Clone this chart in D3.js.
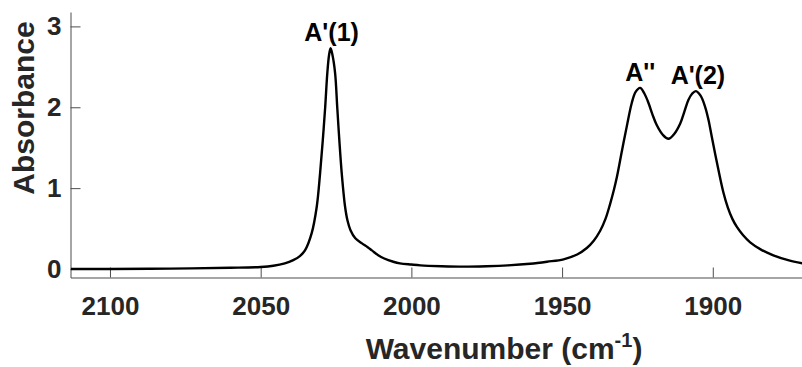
<!DOCTYPE html>
<html>
<head>
<meta charset="utf-8">
<script src="https://cdn.jsdelivr.net/npm/d3@7"></script>
<style>
  html, body { margin: 0; padding: 0; background: #fff; }
  svg { display: block; }
  text { font-family: "Liberation Sans", Arial, Helvetica, sans-serif; font-weight: bold; }
</style>
</head>
<body>
<svg id="chart" width="802" height="367"></svg>
<script>
// IR spectrum: wavenumber (cm^-1) and absorbance
const wavenumber = [
  2113, 2100, 2080, 2060, 2050, 2045.8, 2042, 2039.2, 2037, 2035.3,
  2033.1, 2031.4, 2030.3, 2029.4, 2028.6, 2027.9, 2027.3, 2026.8, 2026.2, 2025.3,
  2024.6, 2023.9, 2023.1, 2022.0, 2021.2, 2020.2, 2018.6, 2016.5, 2014.5, 2013.1,
  2011, 2009, 2006, 2003.8, 2000, 1997, 1990, 1982.7, 1975, 1968,
  1960.6, 1955, 1949.5, 1945, 1941.8, 1939.5, 1937.4, 1935.6, 1934.1, 1932.8,
  1931.8, 1930.2, 1928.5, 1926.9, 1925.6, 1924.1, 1922.7, 1921.3, 1920, 1918.6,
  1916.6, 1914.7, 1912.8, 1910.8, 1909.4, 1908.1, 1906.8, 1905.6, 1904, 1902.5,
  1901.4, 1900.3, 1898.1, 1896.5, 1895, 1893.5, 1892, 1890, 1887.6, 1884,
  1879.9, 1875, 1870.3
];
const absorbance = [
  0.00, 0.00, 0.005, 0.015, 0.025, 0.04, 0.07, 0.11, 0.16, 0.23,
  0.44, 0.77, 1.18, 1.59, 2.00, 2.42, 2.65, 2.73, 2.65, 2.42,
  2.00, 1.59, 1.18, 0.77, 0.60, 0.48, 0.38, 0.32, 0.27, 0.23,
  0.17, 0.13, 0.09, 0.07, 0.055, 0.045, 0.035, 0.03, 0.035, 0.045,
  0.065, 0.09, 0.12, 0.18, 0.26, 0.35, 0.47, 0.62, 0.80, 0.98,
  1.14, 1.45, 1.77, 2.05, 2.19, 2.24, 2.17, 2.05, 1.91, 1.78,
  1.66, 1.61, 1.67, 1.80, 1.95, 2.09, 2.17, 2.20, 2.14, 2.00,
  1.84, 1.63, 1.22, 0.95, 0.76, 0.62, 0.52, 0.42, 0.33, 0.24,
  0.17, 0.11, 0.07
];

const xTicks = [2100, 2050, 2000, 1950, 1900];
const yTicks = [0, 1, 2, 3];

// Band assignments placed above their peaks
const bandLabels = ["A'(1)", "A''", "A'(2)"];
const bandPositions = [2026.8, 1924.1, 1905.6];
const bandHeights = [2.73, 2.24, 2.20];

const svg = d3.select("#chart");
const plotLeft = 70.5, plotRight = 802, plotTop = 12, plotBottom = 277.5;

const x = d3.scaleLinear().domain([2113.1, 1870.4]).range([plotLeft, plotRight]);
const y = d3.scaleLinear().domain([-0.105, 3.178]).range([plotBottom, plotTop]);

const axisColor = "#4d4d4d";
const textColor = "#262626";
const fmt = d3.format("d");

svg.append("defs").append("clipPath").attr("id", "plot-clip")
  .append("rect").attr("x", plotLeft).attr("y", plotTop)
  .attr("width", plotRight - plotLeft).attr("height", plotBottom - plotTop);

// Bottom axis with inward ticks
const gx = svg.append("g").attr("transform", `translate(0,${plotBottom})`)
  .call(d3.axisBottom(x).tickValues(xTicks).tickFormat(fmt)
    .tickSize(-10).tickPadding(19).tickSizeOuter(0));
gx.select(".domain").attr("stroke", axisColor);
gx.selectAll(".tick line").attr("stroke", axisColor);
gx.selectAll(".tick text").attr("fill", textColor).attr("font-size", 26)
  .attr("font-family", "'Liberation Sans', Arial, sans-serif").attr("font-weight", "bold");

// Left axis with inward ticks
const gy = svg.append("g").attr("transform", `translate(${plotLeft},0)`)
  .call(d3.axisLeft(y).tickValues(yTicks).tickFormat(fmt)
    .tickSize(-10).tickPadding(9).tickSizeOuter(0));
gy.select(".domain").attr("stroke", axisColor);
gy.selectAll(".tick line").attr("stroke", axisColor);
gy.selectAll(".tick text").attr("fill", textColor).attr("font-size", 26)
  .attr("font-family", "'Liberation Sans', Arial, sans-serif").attr("font-weight", "bold");

// Spectrum trace
const points = wavenumber.map((w, i) => [w, absorbance[i]]);
const line = d3.line()
  .x(d => x(d[0]))
  .y(d => y(d[1]))
  .curve(d3.curveCatmullRom.alpha(0.5));

svg.append("path")
  .datum(points)
  .attr("clip-path", "url(#plot-clip)")
  .attr("fill", "none")
  .attr("stroke", "#000")
  .attr("stroke-width", 2.4)
  .attr("stroke-linejoin", "round")
  .attr("d", line);

// Peak labels
svg.selectAll(".band")
  .data(bandLabels)
  .enter().append("text")
  .attr("class", "band")
  .attr("x", (d, i) => x(bandPositions[i]) + (i === 0 ? 1 : (i === 1 ? 0 : 2)))
  .attr("y", (d, i) => y(bandHeights[i]) - 7)
  .attr("text-anchor", "middle")
  .attr("font-size", 25)
  .attr("fill", "#000")
  .text(d => d);

// Axis titles
svg.append("text")
  .attr("transform", `translate(34,108) rotate(-90)`)
  .attr("text-anchor", "middle")
  .attr("font-size", 30)
  .attr("fill", textColor)
  .text("Absorbance");

const xt = svg.append("text")
  .attr("x", 504)
  .attr("y", 359)
  .attr("text-anchor", "middle")
  .attr("font-size", 30)
  .attr("fill", textColor);
xt.append("tspan").text("Wavenumber (cm");
xt.append("tspan").attr("dy", -12).attr("font-size", 20).text("-1");
xt.append("tspan").attr("dy", 12).text(")");
</script>
</body>
</html>
